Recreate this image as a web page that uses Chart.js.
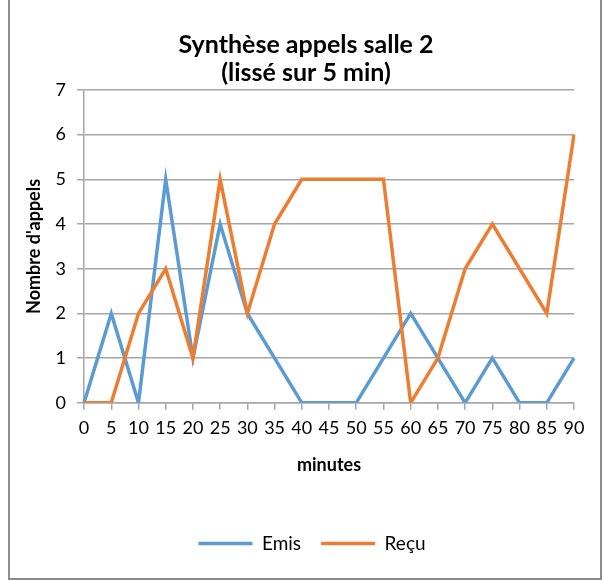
<!DOCTYPE html>
<html>
<head>
<meta charset="utf-8">
<script src="https://cdn.jsdelivr.net/npm/chart.js@4/dist/chart.umd.min.js"></script>
<style>
  html, body { margin: 0; padding: 0; background: #fff; }
  #wrap { width: 604px; height: 581px; position: relative; }
</style>
</head>
<body>
<div id="wrap"><canvas id="appelsChart"></canvas></div>
<script>
// minutes (moyenne glissante sur 5 min)
const minutes = [0, 5, 10, 15, 20, 25, 30, 35, 40, 45, 50, 55, 60, 65, 70, 75, 80, 85, 90];
const emis = [0, 2, 0, 5, 1, 4, 2, 1, 0, 0, 0, 1, 2, 1, 0, 1, 0, 0, 1];
const recu = [0, 0, 2, 3, 1, 5, 2, 4, 5, 5, 5, 5, 0, 1, 3, 4, 3, 2, 6];

const fontFamily = "Lato, 'Open Sans', sans-serif";
const axisGrey = "#a6a6a6";

// cadre gris autour du graphique, titre et légende recentrés sur la zone de tracé
const frame = {
  id: "frame",
  afterLayout(chart) {
    chart.legend.left += 16;
    chart.legend.right += 16;
    chart.titleBlock.left += 10;
    chart.titleBlock.right += 10;
  },
  beforeDraw(chart) {
    const ctx = chart.ctx;
    ctx.save();
    ctx.fillStyle = "#fff";
    ctx.fillRect(0, 0, chart.width, chart.height);
    ctx.strokeStyle = "#8c8c8c";
    ctx.lineWidth = 2;
    ctx.strokeRect(9, -2, 592, 581);
    ctx.restore();
  }
};

const myChart = new Chart("appelsChart", {
  type: "line",
  data: {
    labels: minutes,
    datasets: [{
      label: "Emis",
      data: emis,
      borderColor: "#5b9bd5",
      backgroundColor: "#5b9bd5",
      borderWidth: 3.5,
      pointRadius: 0,
      fill: false,
      tension: 0,
      order: 1
    }, {
      label: "Reçu",
      data: recu,
      borderColor: "#ed7d31",
      backgroundColor: "#ed7d31",
      borderWidth: 3.5,
      pointRadius: 0,
      fill: false,
      tension: 0,
      order: 0
    }]
  },
  options: {
    responsive: true,
    maintainAspectRatio: false,
    animation: false,
    layout: { padding: { left: 18, right: 30, top: 16, bottom: 18 } },
    plugins: {
      title: {
        display: true,
        text: ["Synthèse appels salle 2", "(lissé sur 5 min)"],
        color: "#000",
        font: { family: fontFamily, size: 25, weight: "bold", lineHeight: 1.12 },
        padding: { top: 15, bottom: 3 }
      },
      legend: {
        position: "bottom",
        labels: {
          usePointStyle: true,
          pointStyle: "line",
          pointStyleWidth: 54,
          color: "#000",
          padding: 20,
          font: { family: fontFamily, size: 19 },
          sort: (a, b) => a.datasetIndex - b.datasetIndex
        }
      },
      tooltip: { enabled: false }
    },
    scales: {
      x: {
        offset: false,
        grid: {
          display: true,
          drawOnChartArea: false,
          drawTicks: true,
          tickLength: 7,
          color: axisGrey,
          lineWidth: 1.5
        },
        border: { color: axisGrey, width: 1.5 },
        ticks: {
          color: "#000",
          maxRotation: 0,
          autoSkip: false,
          padding: 8,
          font: { family: fontFamily, size: 18 }
        },
        title: {
          display: true,
          text: "minutes",
          color: "#000",
          font: { family: fontFamily, size: 18, weight: "bold" },
          padding: { top: 7, bottom: 38 }
        }
      },
      y: {
        min: 0,
        max: 7,
        grid: {
          color: axisGrey,
          lineWidth: 1.5,
          tickLength: 7
        },
        border: { color: axisGrey, width: 1.5 },
        ticks: {
          stepSize: 1,
          color: "#000",
          padding: 11,
          font: { family: fontFamily, size: 18 }
        },
        title: {
          display: true,
          text: "Nombre d'appels",
          color: "#000",
          font: { family: fontFamily, size: 18, weight: "bold" },
          padding: { top: 5, bottom: 0 }
        }
      }
    }
  },
  plugins: [frame]
});
</script>
</body>
</html>
